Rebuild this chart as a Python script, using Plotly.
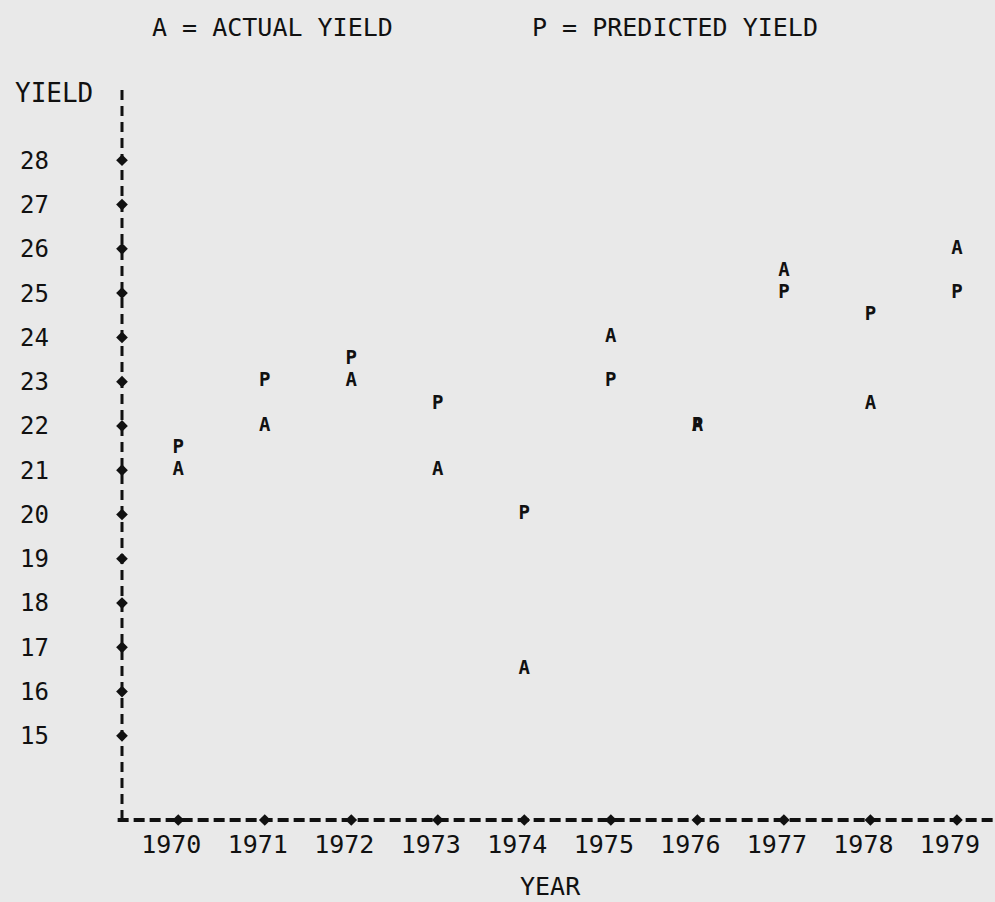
import plotly.graph_objects as go

# ---- data ----
years = [1970, 1971, 1972, 1973, 1974, 1975, 1976, 1977, 1978, 1979]
year_labels = [str(y) for y in years]
actual_yield = [21.0, 22.0, 23.0, 21.0, 16.5, 24.0, 22.0, 25.5, 22.5, 26.0]
predicted_yield = [21.5, 23.0, 23.5, 22.5, 20.0, 23.0, 22.0, 25.0, 24.5, 25.0]
yield_ticks = [15, 16, 17, 18, 19, 20, 21, 22, 23, 24, 25, 26, 27, 28]
yield_labels = [str(v) for v in yield_ticks]

X_RANGE = [1969.35, 1979.44]
Y_RANGE = [13.10, 29.70]

BG = "#e9e9e9"
INK = "#111111"
MONO = "DejaVu Sans Mono"

fig = go.Figure()

# predicted first so actual drawn on top where overlapping
fig.add_trace(go.Scatter(
    x=years, y=predicted_yield, mode="text", text=["P"] * len(years),
    textfont=dict(family=MONO, size=19, color=INK, weight="bold"),
    textposition="middle center", showlegend=False, cliponaxis=False))
fig.add_trace(go.Scatter(
    x=years, y=actual_yield, mode="text", text=["A"] * len(years),
    textfont=dict(family=MONO, size=19, color=INK, weight="bold"),
    textposition="middle center", showlegend=False, cliponaxis=False))

# diamond tick marks on the axes
fig.add_trace(go.Scatter(
    x=[X_RANGE[0]] * len(yield_ticks), y=yield_ticks, mode="markers",
    marker=dict(symbol="diamond", size=9, color=INK), showlegend=False,
    cliponaxis=False, hoverinfo="skip"))
fig.add_trace(go.Scatter(
    x=years, y=[Y_RANGE[0]] * len(years), mode="markers",
    marker=dict(symbol="diamond", size=9, color=INK), showlegend=False,
    cliponaxis=False, hoverinfo="skip"))

# dashed axis lines
fig.add_shape(type="line", xref="paper", yref="paper", x0=0, x1=0, y0=0, y1=1,
              line=dict(color=INK, width=3, dash="10px,6px"))
fig.add_shape(type="line", xref="paper", yref="paper", x0=-0.005, x1=1, y0=0, y1=0,
              line=dict(color=INK, width=4, dash="11px,5px"))

fig.update_xaxes(range=X_RANGE, tickvals=years, ticktext=year_labels,
                 showgrid=False, zeroline=False, showline=False, ticks="",
                 tickfont=dict(family=MONO, size=25, color=INK),
                 ticklabelstandoff=7, ticklabelshift=-7)
fig.update_yaxes(range=Y_RANGE, tickvals=yield_ticks, ticktext=yield_labels,
                 showgrid=False, zeroline=False, showline=False, ticks="",
                 tickfont=dict(family=MONO, size=24, color=INK),
                 ticklabelstandoff=72)

ann_font = dict(family=MONO, size=25, color=INK)
fig.add_annotation(text="A = ACTUAL YIELD", xref="paper", yref="paper",
                   x=(150 - 122) / 873, y=1 + (85 - 28) / 735, xanchor="left",
                   yanchor="middle", showarrow=False, font=ann_font)
fig.add_annotation(text="P = PREDICTED YIELD", xref="paper", yref="paper",
                   x=(530 - 122) / 873, y=1 + (85 - 28) / 735, xanchor="left",
                   yanchor="middle", showarrow=False, font=ann_font)
fig.add_annotation(text="YIELD", xref="paper", yref="paper",
                   x=(13 - 122) / 873, y=1 - (93 - 85) / 735, xanchor="left",
                   yanchor="middle", showarrow=False, font=dict(family=MONO, size=26, color=INK))
fig.add_annotation(text="YEAR", xref="paper", yref="paper",
                   x=(550 - 122) / 873, y=-(886 - 820) / 735, xanchor="center",
                   yanchor="middle", showarrow=False, font=dict(family=MONO, size=25, color=INK))

fig.update_layout(
    width=995, height=902,
    margin=dict(l=122, r=0, t=85, b=82),
    paper_bgcolor=BG, plot_bgcolor=BG,
    showlegend=False,
)

fig.write_html("out.html")
